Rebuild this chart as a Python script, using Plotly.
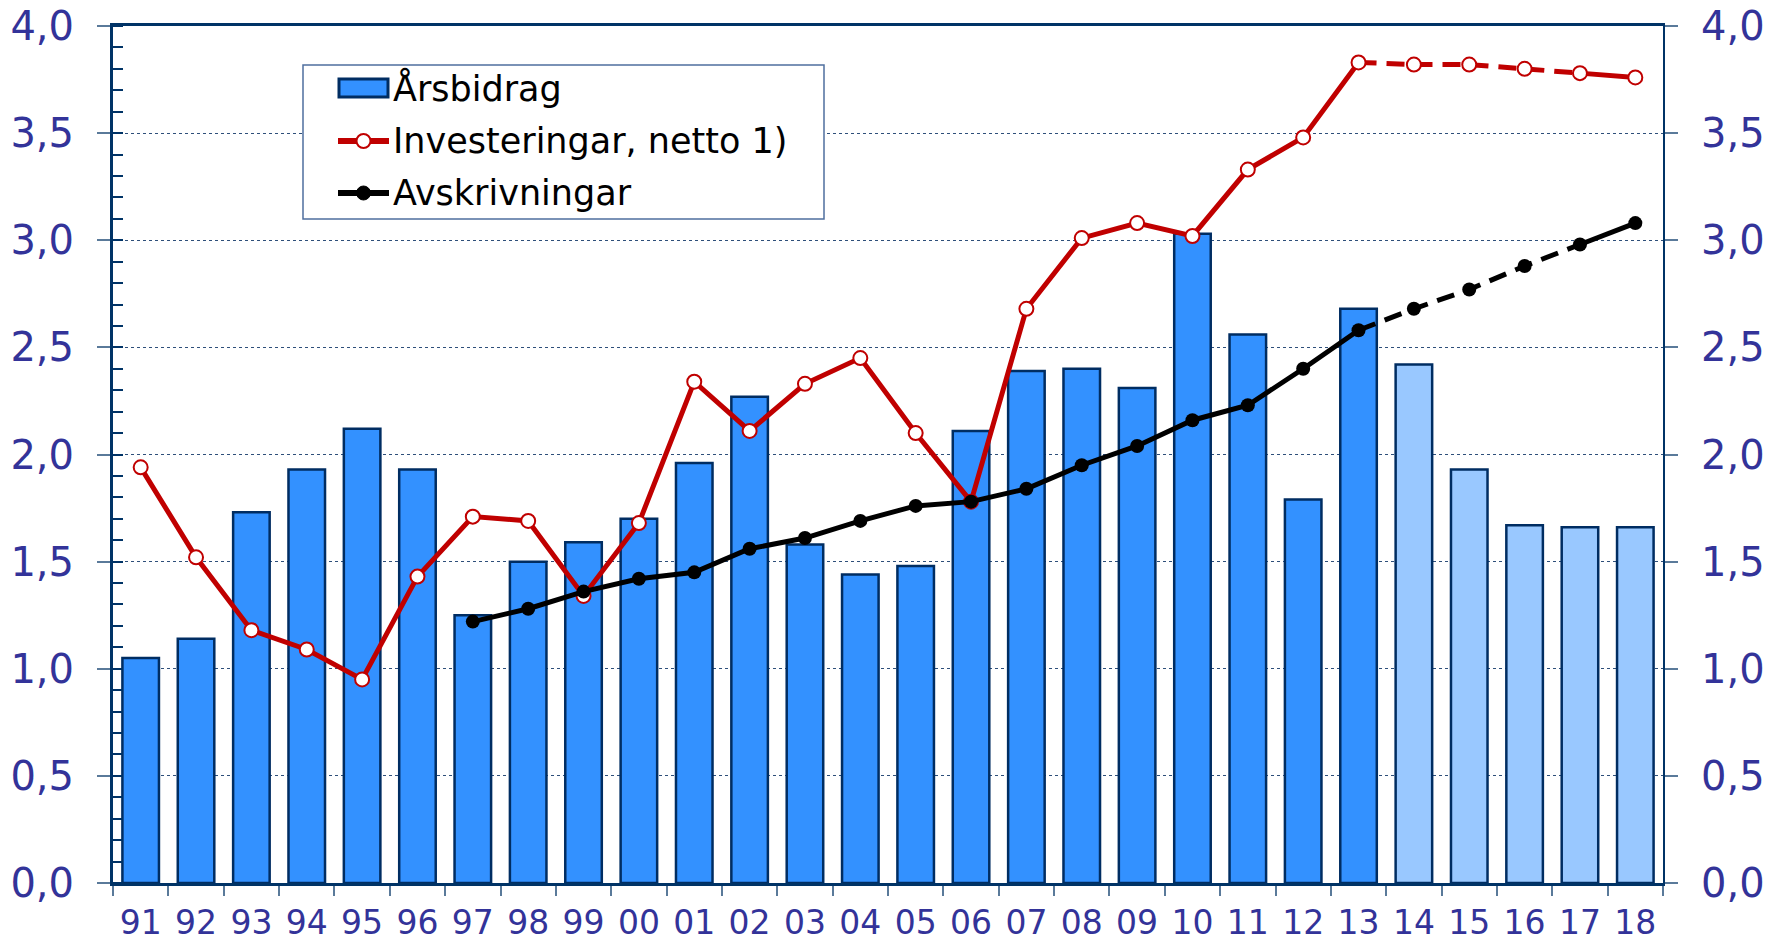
import plotly.graph_objects as go

years = ["91", "92", "93", "94", "95", "96", "97", "98", "99", "00", "01", "02", "03", "04",
         "05", "06", "07", "08", "09", "10", "11", "12", "13", "14", "15", "16", "17", "18"]
arsbidrag = [1.05, 1.14, 1.73, 1.93, 2.12, 1.93, 1.25, 1.50, 1.59, 1.70, 1.96, 2.27, 1.58, 1.44,
             1.48, 2.11, 2.39, 2.40, 2.31, 3.03, 2.56, 1.79, 2.68, 2.42, 1.93, 1.67, 1.66, 1.66]
investeringar = [1.94, 1.52, 1.18, 1.09, 0.95, 1.43, 1.71, 1.69, 1.34, 1.68, 2.34, 2.11, 2.33, 2.45,
                 2.10, 1.78, 2.68, 3.01, 3.08, 3.02, 3.33, 3.48, 3.83, 3.82, 3.82, 3.80, 3.78, 3.76]
avskr_years = ["97", "98", "99", "00", "01", "02", "03", "04", "05", "06", "07", "08", "09", "10",
               "11", "12", "13", "14", "15", "16", "17", "18"]
avskrivningar = [1.22, 1.28, 1.36, 1.42, 1.45, 1.56, 1.61, 1.69, 1.76, 1.78, 1.84, 1.95, 2.04, 2.16,
                 2.23, 2.40, 2.58, 2.68, 2.77, 2.88, 2.98, 3.08]
y_ticks = [0, 0.5, 1, 1.5, 2, 2.5, 3, 3.5, 4]
y_ticklabels = ["0,0", "0,5", "1,0", "1,5", "2,0", "2,5", "3,0", "3,5", "4,0"]
legend_labels = ["Årsbidrag", "Investeringar, netto 1)", "Avskrivningar"]

forecast_start = "13"   # dashed from here
forecast_end = "17"     # solid again after here
prog_bars_from = "14"   # light bars from here

DARK_BAR = "#3391FF"
LIGHT_BAR = "#99C8FF"
BAR_LINE = "#002D62"
RED = "#C00000"
NAVY = "#003366"
TICKBLUE = "#333399"
FONT = "DejaVu Sans"

# page has an 8px body margin; figure sized so it fits the 1777x942 window
OFF = 8
W, H = 1777 - OFF, 942 - OFF
ML, MT = 113 - OFF, 26 - OFF
PW, PH = 1550, 857
MR, MB = W - ML - PW, H - MT - PH

i_fs = years.index(forecast_start)
i_fe = years.index(forecast_end)
i_pb = years.index(prog_bars_from)
bar_colors = [DARK_BAR if i < i_pb else LIGHT_BAR for i in range(len(years))]

ja = avskr_years.index(forecast_start)
je = avskr_years.index(forecast_end)

fig = go.Figure()

fig.add_trace(go.Bar(
    x=years, y=arsbidrag, name=legend_labels[0],
    marker=dict(color=bar_colors, line=dict(color=BAR_LINE, width=2.5)),
    showlegend=False,
))

# Investeringar
fig.add_trace(go.Scatter(
    x=years[:i_fs + 1], y=investeringar[:i_fs + 1], name=legend_labels[1],
    mode="lines", line=dict(color=RED, width=5), showlegend=False,
))
fig.add_trace(go.Scatter(
    x=years[i_fs:i_fe + 1], y=investeringar[i_fs:i_fe + 1], mode="lines",
    line=dict(color=RED, width=5, dash="18px,10px"), showlegend=False, hoverinfo="skip",
))
fig.add_trace(go.Scatter(
    x=years[i_fe:], y=investeringar[i_fe:], mode="lines",
    line=dict(color=RED, width=5), showlegend=False, hoverinfo="skip",
))
fig.add_trace(go.Scatter(
    x=years, y=investeringar, mode="markers", name=legend_labels[1],
    marker=dict(color="white", size=14, line=dict(color=RED, width=2)), showlegend=False,
))

# Avskrivningar
fig.add_trace(go.Scatter(
    x=avskr_years[:ja + 1], y=avskrivningar[:ja + 1], name=legend_labels[2],
    mode="lines", line=dict(color="black", width=5), showlegend=False,
))
fig.add_trace(go.Scatter(
    x=avskr_years[ja:je + 1], y=avskrivningar[ja:je + 1], mode="lines",
    line=dict(color="black", width=5, dash="18px,10px"), showlegend=False, hoverinfo="skip",
))
fig.add_trace(go.Scatter(
    x=avskr_years[je:], y=avskrivningar[je:], mode="lines",
    line=dict(color="black", width=5), showlegend=False, hoverinfo="skip",
))
fig.add_trace(go.Scatter(
    x=avskr_years, y=avskrivningar, mode="markers", name=legend_labels[2],
    marker=dict(color="black", size=14), showlegend=False,
))

# dummy trace for right axis
fig.add_trace(go.Scatter(
    x=[years[0]], y=[0], yaxis="y2", mode="markers", marker=dict(opacity=0),
    showlegend=False, hoverinfo="skip",
))


# ---- manual legend (window pixel layout converted to paper coords) ----
def px(xp):
    return (xp - OFF - ML) / PW


def py(yp):
    return (MT + PH - (yp - OFF)) / PH


shapes = []
annotations = []
shapes.append(dict(type="rect", xref="paper", yref="paper",
                   x0=px(303), x1=px(824), y0=py(219), y1=py(65),
                   line=dict(color="#4F6F9F", width=1.5), fillcolor="white", layer="above"))
row_y = [88, 141, 193]
sym_x0, sym_x1, text_x = 338, 389, 391
cx = (sym_x0 + sym_x1) / 2
shapes.append(dict(type="rect", xref="paper", yref="paper",
                   x0=px(sym_x0 + 1), x1=px(sym_x1 - 1), y0=py(row_y[0] + 9), y1=py(row_y[0] - 9),
                   line=dict(color=BAR_LINE, width=3), fillcolor=DARK_BAR, layer="above"))
shapes.append(dict(type="line", xref="paper", yref="paper",
                   x0=px(sym_x0), x1=px(sym_x1), y0=py(row_y[1]), y1=py(row_y[1]),
                   line=dict(color=RED, width=6), layer="above"))
shapes.append(dict(type="circle", xref="paper", yref="paper",
                   x0=px(cx - 7), x1=px(cx + 7), y0=py(row_y[1] + 7), y1=py(row_y[1] - 7),
                   line=dict(color=RED, width=2), fillcolor="white", layer="above"))
shapes.append(dict(type="line", xref="paper", yref="paper",
                   x0=px(sym_x0), x1=px(sym_x1), y0=py(row_y[2]), y1=py(row_y[2]),
                   line=dict(color="black", width=6), layer="above"))
shapes.append(dict(type="circle", xref="paper", yref="paper",
                   x0=px(cx - 7), x1=px(cx + 7), y0=py(row_y[2] + 7), y1=py(row_y[2] - 7),
                   line=dict(color="black", width=1), fillcolor="black", layer="above"))
for lab, ry in zip(legend_labels, row_y):
    annotations.append(dict(text=lab, xref="paper", yref="paper", x=px(text_x), y=py(ry),
                            xanchor="left", yanchor="middle", showarrow=False,
                            font=dict(size=35, family=FONT, color="black")))

fig.update_layout(
    width=W, height=H,
    margin=dict(l=ML, r=MR, t=MT, b=MB, autoexpand=False),
    paper_bgcolor="white", plot_bgcolor="white",
    bargap=0.34,
    font=dict(family=FONT, color="black"),
    showlegend=False,
    shapes=shapes,
    annotations=annotations,
    xaxis=dict(
        type="category", categoryorder="array", categoryarray=years,
        range=[-0.5, len(years) - 0.5], automargin=False,
        showline=True, linecolor=NAVY, linewidth=3, mirror=True,
        ticks="outside", ticklen=10, tickcolor="#5A7A9A", tickwidth=2,
        tickson="boundaries",
        tickfont=dict(size=33, color=TICKBLUE, family=FONT),
        ticklabelstandoff=8, ticklabeloverflow="allow",
        showgrid=False, zeroline=False,
    ),
    yaxis=dict(
        range=[0, 4], tickvals=y_ticks, ticktext=y_ticklabels, automargin=False,
        showline=True, linecolor=NAVY, linewidth=3,
        ticks="outside", ticklen=13, tickcolor="#5A7A9A", tickwidth=2,
        minor=dict(dtick=0.1, ticks="inside", ticklen=10, tickcolor=NAVY, tickwidth=2, showgrid=False),
        tickfont=dict(size=40, color=TICKBLUE, family=FONT),
        ticklabelstandoff=15, ticklabeloverflow="allow",
        showgrid=True, gridcolor="#2E4F7A", gridwidth=1, griddash="dot",
        zeroline=False,
    ),
    yaxis2=dict(
        range=[0, 4], tickvals=y_ticks, ticktext=y_ticklabels, automargin=False,
        overlaying="y", side="right", anchor="x",
        showline=True, linecolor=NAVY, linewidth=2,
        ticks="outside", ticklen=13, tickcolor="#5A7A9A", tickwidth=2,
        tickfont=dict(size=40, color=TICKBLUE, family=FONT),
        ticklabelstandoff=15, ticklabeloverflow="allow",
        showgrid=False, zeroline=False,
    ),
)

fig.write_html("out.html")
